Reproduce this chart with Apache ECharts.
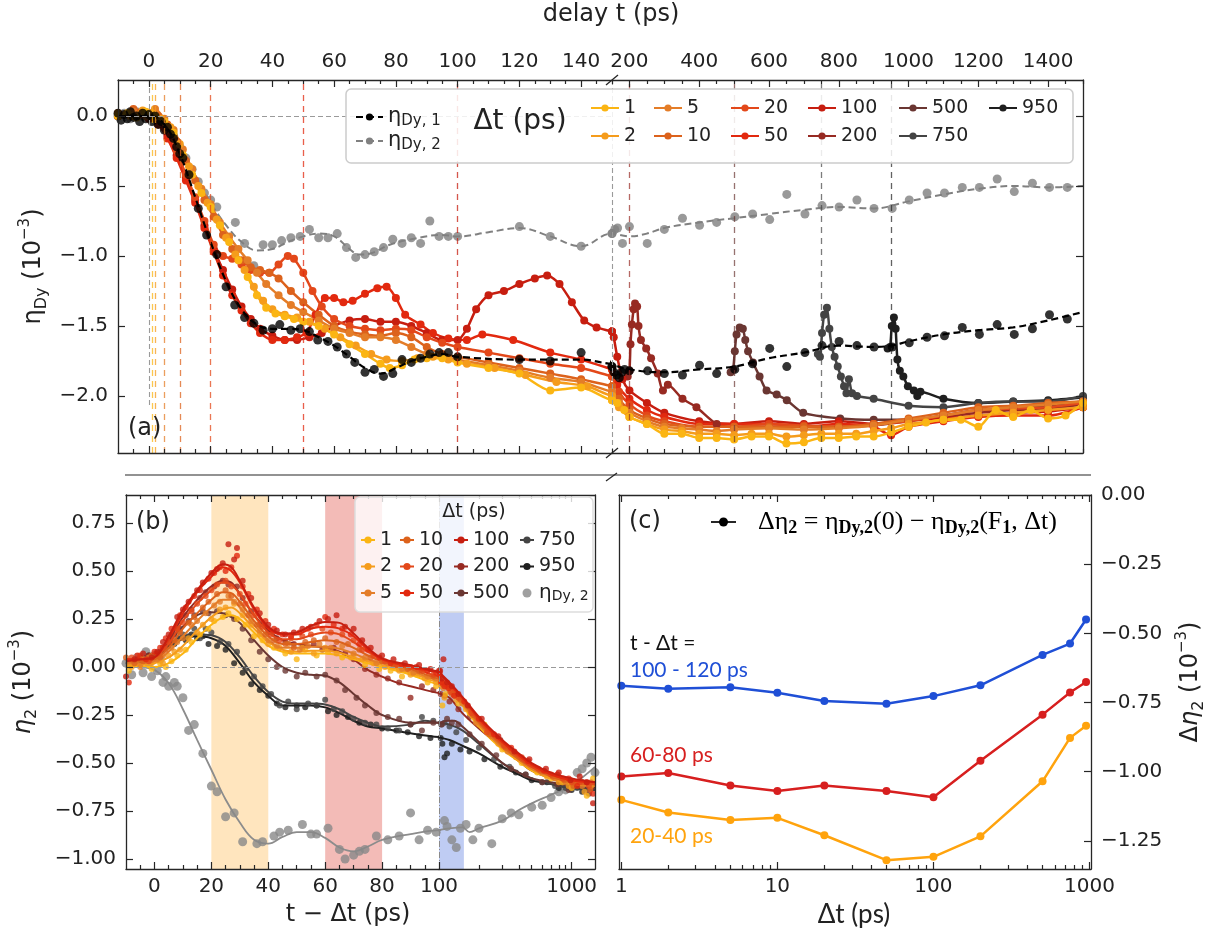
<!DOCTYPE html>
<html>
<head>
<meta charset="utf-8">
<script src="https://cdn.jsdelivr.net/npm/echarts@6/dist/echarts.min.js"></script>
<style>html,body{margin:0;padding:0;background:#fff}#chart{width:1205px;height:938px}</style>
</head>
<body>
<div id="chart"></div>
<script>
// ---------------- panel (a): eta_Dy versus delay t (ps) ----------------
const aEta1Pts = [[-10,0.02],[-9,-0.03],[-8,0.01],[-7,-0.02],[-6,0.03],[-5,-0.01],[-4,0.0],[-3,-0.04],[-2,0.02],[-1,-0.02],[0,0.01],[1,-0.04],[2,0.0],[3,-0.06],[4,-0.04],[5,-0.1],[6,-0.08],[7,-0.13],[8,-0.16],[9,-0.22],[10,-0.27],[11,-0.3],[13,-0.42],[16,-0.66],[18.7,-0.85],[22,-0.99],[25,-1.22],[27.8,-1.35],[31,-1.44],[34,-1.48],[37,-1.53],[40,-1.52],[42.4,-1.49],[46,-1.53],[49,-1.52],[52,-1.54],[54.7,-1.6],[58,-1.61],[61,-1.65],[64,-1.7],[66.7,-1.76],[70,-1.83],[73,-1.81],[76,-1.86],[79,-1.84],[82,-1.74],[85,-1.76],[88,-1.73],[91,-1.7],[94,-1.69],[97,-1.69],[100,-1.72],[120,-1.74],[130,-1.75],[140,-1.69],[150,-1.79],[156,-1.83],[163,-1.85],[171,-1.87],[178,-1.83],[186,-1.81],[200,-1.82],[252,-1.82],[300,-1.84],[352,-1.85],[401,-1.78],[450,-1.84],[502,-1.81],[553,-1.77],[602,-1.66],[651,-1.79],[703,-1.69],[752,-1.64],[801,-1.61],[852,-1.64],[901,-1.65],[953,-1.65],[1002,-1.62],[1053,-1.58],[1103,-1.57],[1154,-1.51],[1203,-1.56],[1254,-1.49],[1303,-1.56],[1355,-1.52],[1404,-1.42],[1455,-1.45],[1501,-1.36]];
const aEta1Fit = [[-10,0],[0,0],[5,-0.06],[10,-0.27],[15,-0.58],[20,-0.9],[25,-1.18],[30,-1.38],[35,-1.49],[40,-1.52],[45,-1.52],[50,-1.53],[55,-1.58],[60,-1.64],[65,-1.72],[70,-1.8],[75,-1.84],[80,-1.8],[85,-1.75],[90,-1.72],[95,-1.7],[100,-1.72],[120,-1.74],[140,-1.74],[150,-1.77],[200,-1.81],[300,-1.83],[400,-1.81],[500,-1.79],[600,-1.73],[700,-1.69],[800,-1.64],[900,-1.65],[950,-1.64],[1000,-1.61],[1100,-1.56],[1200,-1.53],[1300,-1.51],[1400,-1.46],[1500,-1.4]];
const aEta2Pts = [[-10,0.0],[-8,0.02],[-6,-0.02],[-4,0.03],[-2,0.0],[0,0.02],[2,-0.02],[4,-0.04],[6,-0.08],[8,-0.14],[10,-0.22],[12,-0.3],[14,-0.38],[16,-0.47],[18,-0.55],[20,-0.6],[22,-0.65],[28,-0.76],[31,-0.91],[34,-1.07],[37,-0.92],[40,-0.92],[43,-0.89],[46,-0.87],[49,-0.86],[52,-0.81],[55,-0.87],[58,-0.87],[61,-0.84],[64,-0.94],[67,-1.01],[70,-0.99],[73,-0.97],[76,-0.94],[79,-0.88],[82,-0.91],[85,-0.87],[88,-0.91],[91,-0.75],[94,-0.86],[97,-0.86],[100,-0.86],[120,-0.79],[130,-0.86],[140,-0.93],[150,-0.84],[158,-0.81],[166,-0.8],[180,-0.91],[200,-0.79],[251,-0.91],[300,-0.81],[352,-0.73],[401,-0.78],[450,-0.76],[502,-0.72],[553,-0.7],[602,-0.74],[651,-0.56],[703,-0.7],[752,-0.64],[801,-0.65],[852,-0.6],[901,-0.66],[953,-0.66],[1002,-0.6],[1053,-0.55],[1103,-0.55],[1154,-0.51],[1203,-0.51],[1254,-0.45],[1303,-0.54],[1355,-0.48],[1404,-0.51],[1455,-0.51],[1501,-0.49]];
const aEta2Fit = [[-10,0],[0,0],[5,-0.05],[10,-0.2],[15,-0.42],[20,-0.62],[25,-0.78],[30,-0.9],[35,-0.96],[40,-0.95],[45,-0.9],[50,-0.86],[55,-0.84],[60,-0.86],[65,-0.95],[68,-0.99],[72,-0.98],[78,-0.92],[85,-0.88],[95,-0.85],[100,-0.86],[110,-0.83],[120,-0.8],[130,-0.86],[140,-0.93],[150,-0.84],[200,-0.86],[250,-0.84],[300,-0.8],[400,-0.76],[500,-0.73],[600,-0.7],[700,-0.67],[800,-0.65],[900,-0.66],[1000,-0.61],[1100,-0.56],[1200,-0.52],[1300,-0.5],[1400,-0.51],[1500,-0.5]];

const aDt1 = [[-10,0.0],[-7,0.02],[-4,-0.01],[-1,0.03],[2,0.0],[5,-0.04],[8,-0.12],[11,-0.28],[14,-0.42],[17,-0.55],[20,-0.65],[23,-0.78],[26,-0.9],[29,-1.03],[32,-1.15],[35,-1.28],[38,-1.37],[41,-1.41],[44,-1.43],[47,-1.45],[50,-1.47],[55,-1.5],[60,-1.56],[65,-1.63],[70,-1.7],[75,-1.77],[78,-1.8],[82,-1.78],[86,-1.74],[90,-1.73],[95,-1.73],[100,-1.76],[110,-1.8],[120,-1.84],[130,-1.96],[140,-1.94],[150,-2.03],[165,-2.05],[185,-2.1],[200,-2.15],[250,-2.2],[300,-2.27],[350,-2.27],[400,-2.3],[450,-2.3],[500,-2.31],[550,-2.29],[600,-2.29],[650,-2.34],[700,-2.33],[750,-2.3],[800,-2.3],[850,-2.29],[900,-2.29],[950,-2.26],[1000,-2.22],[1050,-2.19],[1100,-2.17],[1150,-2.17],[1200,-2.22],[1250,-2.1],[1300,-2.15],[1350,-2.1],[1400,-2.16],[1450,-2.14],[1500,-2.05]];
const aDt2 = [[-10,0.02],[-6,0.0],[-2,0.04],[1,0.02],[4,-0.02],[7,-0.08],[10,-0.2],[13,-0.36],[16,-0.5],[19,-0.62],[22,-0.74],[25,-0.87],[28,-0.99],[31,-1.1],[34,-1.22],[37,-1.32],[40,-1.38],[44,-1.42],[48,-1.44],[52,-1.47],[57,-1.52],[62,-1.58],[67,-1.64],[72,-1.7],[77,-1.74],[82,-1.75],[87,-1.73],[92,-1.72],[97,-1.74],[103,-1.77],[112,-1.8],[122,-1.85],[132,-1.9],[142,-1.93],[150,-2.0],[170,-2.08],[200,-2.15],[250,-2.2],[300,-2.24],[350,-2.25],[400,-2.27],[450,-2.27],[500,-2.28],[550,-2.27],[600,-2.27],[650,-2.29],[700,-2.28],[750,-2.27],[800,-2.27],[850,-2.27],[900,-2.25],[950,-2.23],[1000,-2.2],[1100,-2.17],[1200,-2.14],[1300,-2.12],[1400,-2.1],[1500,-2.08]];
const aDt5 = [[-10,0.01],[-5,0.03],[-1,0.0],[2,0.05],[5,-0.02],[8,-0.1],[11,-0.24],[14,-0.38],[17,-0.52],[20,-0.63],[23,-0.76],[26,-0.86],[29,-0.95],[32,-1.03],[35,-1.12],[38,-1.2],[42,-1.28],[46,-1.35],[50,-1.4],[55,-1.46],[60,-1.52],[65,-1.55],[70,-1.58],[75,-1.58],[80,-1.6],[85,-1.65],[90,-1.7],[95,-1.72],[100,-1.74],[110,-1.78],[120,-1.82],[130,-1.87],[140,-1.9],[150,-1.97],[170,-2.05],[200,-2.12],[250,-2.18],[300,-2.22],[350,-2.23],[400,-2.24],[450,-2.25],[500,-2.24],[600,-2.23],[700,-2.24],[800,-2.23],[900,-2.21],[1000,-2.17],[1100,-2.14],[1200,-2.1],[1300,-2.08],[1400,-2.06],[1500,-2.04]];
const aDt10 = [[-10,0.0],[-5,0.05],[0,0.02],[3,0.0],[6,-0.06],[9,-0.18],[12,-0.32],[15,-0.46],[18,-0.6],[21,-0.72],[24,-0.85],[27,-0.95],[30,-1.03],[33,-1.08],[36,-1.1],[39,-1.12],[42,-1.16],[46,-1.25],[50,-1.33],[55,-1.42],[60,-1.5],[65,-1.54],[70,-1.56],[75,-1.57],[80,-1.55],[85,-1.58],[90,-1.65],[95,-1.7],[100,-1.72],[110,-1.76],[120,-1.8],[130,-1.84],[140,-1.88],[150,-1.93],[170,-2.02],[200,-2.1],[250,-2.16],[300,-2.2],[400,-2.22],[500,-2.22],[600,-2.22],[700,-2.22],[800,-2.22],[900,-2.2],[1000,-2.16],[1100,-2.12],[1200,-2.08],[1300,-2.07],[1400,-2.05],[1500,-2.04]];
const aDt20 = [[-10,0.0],[-5,0.02],[0,0.0],[3,-0.02],[6,-0.1],[9,-0.25],[12,-0.42],[15,-0.58],[18,-0.75],[21,-0.92],[24,-1.0],[27,-1.02],[30,-1.06],[33,-1.1],[36,-1.12],[39,-1.12],[42,-1.06],[45,-1.0],[47,-1.02],[50,-1.12],[53,-1.25],[56,-1.36],[60,-1.45],[65,-1.5],[70,-1.52],[75,-1.53],[80,-1.52],[85,-1.53],[90,-1.58],[95,-1.62],[100,-1.65],[110,-1.69],[120,-1.73],[130,-1.77],[140,-1.8],[150,-1.86],[170,-1.97],[200,-2.06],[250,-2.14],[300,-2.18],[400,-2.22],[500,-2.22],[600,-2.2],[700,-2.21],[800,-2.22],[900,-2.2],[1000,-2.18],[1100,-2.14],[1200,-2.1],[1300,-2.09],[1400,-2.08],[1500,-2.05]];
const aDt50 = [[-10,0.0],[-5,0.0],[0,-0.02],[3,-0.06],[6,-0.16],[9,-0.3],[12,-0.46],[15,-0.62],[18,-0.8],[21,-0.97],[24,-1.14],[27,-1.28],[30,-1.39],[33,-1.48],[36,-1.55],[40,-1.6],[44,-1.6],[48,-1.58],[51,-1.55],[54,-1.42],[57,-1.3],[60,-1.3],[63,-1.33],[66,-1.32],[70,-1.27],[74,-1.23],[77,-1.22],[80,-1.3],[83,-1.42],[88,-1.49],[92,-1.55],[97,-1.59],[103,-1.6],[108,-1.56],[118,-1.6],[130,-1.69],[140,-1.74],[150,-1.81],[165,-1.92],[200,-2.02],[250,-2.1],[300,-2.15],[400,-2.2],[500,-2.2],[600,-2.2],[700,-2.22],[800,-2.2],[900,-2.22],[950,-2.28],[1000,-2.22],[1100,-2.18],[1200,-2.15],[1300,-2.14],[1400,-2.14],[1500,-2.08]];
const aDt100 = [[-10,0.02],[-5,0.0],[0,0.0],[3,-0.04],[6,-0.14],[9,-0.28],[12,-0.44],[15,-0.6],[18,-0.78],[21,-0.95],[24,-1.1],[27,-1.24],[30,-1.36],[33,-1.45],[36,-1.52],[40,-1.57],[44,-1.6],[48,-1.6],[52,-1.58],[56,-1.55],[60,-1.5],[65,-1.46],[70,-1.45],[75,-1.47],[80,-1.47],[85,-1.5],[90,-1.55],[95,-1.6],[100,-1.6],[103,-1.52],[106,-1.38],[110,-1.28],[115,-1.25],[120,-1.2],[125,-1.16],[129,-1.14],[133,-1.2],[137,-1.33],[141,-1.46],[145,-1.51],[150,-1.54],[155,-1.58],[165,-1.72],[180,-1.88],[200,-1.96],[250,-2.05],[300,-2.12],[400,-2.18],[500,-2.2],[600,-2.18],[700,-2.2],[800,-2.18],[900,-2.2],[1000,-2.17],[1100,-2.16],[1200,-2.14],[1300,-2.12],[1400,-2.11],[1500,-2.08]];
const aDt200 = [[195,-1.86],[200,-1.82],[203,-1.63],[207,-1.49],[212,-1.38],[216,-1.34],[222,-1.36],[226,-1.5],[233,-1.6],[248,-1.66],[262,-1.73],[281,-1.84],[296,-1.96],[310,-1.92],[352,-2.02],[392,-2.08],[450,-2.2],[500,-2.22],[600,-2.22],[700,-2.22],[800,-2.22],[900,-2.21],[1000,-2.18],[1100,-2.15],[1200,-2.12],[1300,-2.1],[1400,-2.09],[1500,-2.06]];
const aDt500 = [[490,-1.83],[497,-1.81],[502,-1.68],[507,-1.56],[516,-1.51],[525,-1.52],[532,-1.6],[540,-1.68],[554,-1.76],[573,-1.86],[593,-1.96],[622,-1.99],[651,-2.03],[698,-2.12],[804,-2.16],[900,-2.17],[1000,-2.17],[1100,-2.14],[1200,-2.1],[1300,-2.09],[1400,-2.07],[1500,-2.04]];
const aDt750 = [[740,-1.7],[746,-1.72],[752,-1.55],[758,-1.42],[766,-1.37],[773,-1.52],[780,-1.65],[788,-1.72],[797,-1.79],[806,-1.86],[815,-1.93],[822,-1.98],[829,-1.88],[838,-1.98],[852,-2.0],[900,-2.02],[1000,-2.07],[1100,-2.08],[1200,-2.05],[1300,-2.04],[1400,-2.04],[1500,-2.0]];
const aDt950 = [[940,-1.66],[947,-1.65],[952,-1.5],[958,-1.44],[963,-1.52],[968,-1.74],[975,-1.82],[985,-1.86],[998,-1.93],[1015,-1.96],[1025,-2.0],[1034,-1.97],[1100,-2.02],[1200,-2.05],[1300,-2.04],[1400,-2.03],[1500,-2.01]];

// ---------------- panel (b): eta_2 versus t - Δt (ps) ----------------
const bFit1 = [[-10,0.0],[-5,0.0],[0,0.0],[5,0.02],[10,0.07],[15,0.15],[20,0.22],[24,0.26],[27,0.27],[30,0.25],[35,0.18],[40,0.11],[45,0.08],[50,0.07],[55,0.07],[60,0.07],[65,0.06],[70,0.04],[75,0.02],[80,0.0],[90,-0.04],[100,-0.09],[120,-0.12],[150,-0.2],[200,-0.31],[300,-0.43],[400,-0.49],[500,-0.54],[700,-0.58],[1000,-0.61],[1500,-0.62]];
const bFit2 = [[-10,0.01],[-5,0.01],[0,0.02],[5,0.05],[10,0.11],[15,0.19],[20,0.26],[24,0.3],[27,0.31],[30,0.28],[35,0.2],[40,0.13],[45,0.09],[50,0.08],[55,0.085],[60,0.085],[65,0.075],[70,0.05],[75,0.03],[80,0.01],[90,-0.03],[100,-0.08],[120,-0.12],[150,-0.19],[200,-0.3],[300,-0.42],[400,-0.49],[500,-0.53],[700,-0.58],[1000,-0.6],[1500,-0.62]];
const bFit5 = [[-10,0.02],[-5,0.02],[0,0.03],[5,0.08],[10,0.16],[15,0.24],[20,0.31],[24,0.35],[27,0.35],[30,0.31],[35,0.22],[40,0.14],[45,0.1],[50,0.1],[55,0.105],[60,0.105],[65,0.095],[70,0.07],[75,0.04],[80,0.02],[90,-0.02],[100,-0.07],[120,-0.11],[150,-0.19],[200,-0.3],[300,-0.42],[400,-0.48],[500,-0.53],[700,-0.57],[1000,-0.6],[1500,-0.62]];
const bFit10 = [[-10,0.03],[-5,0.03],[0,0.04],[5,0.1],[10,0.2],[15,0.28],[20,0.35],[24,0.39],[27,0.385],[30,0.34],[35,0.24],[40,0.16],[45,0.12],[50,0.12],[55,0.13],[60,0.14],[65,0.13],[70,0.1],[75,0.06],[80,0.03],[90,-0.01],[100,-0.06],[120,-0.1],[150,-0.18],[200,-0.29],[300,-0.41],[400,-0.48],[500,-0.52],[700,-0.57],[1000,-0.6],[1500,-0.61]];
const bFit20 = [[-10,0.04],[-5,0.04],[0,0.05],[5,0.12],[10,0.24],[15,0.33],[20,0.4],[24,0.44],[27,0.43],[30,0.38],[35,0.27],[40,0.18],[45,0.145],[50,0.145],[55,0.165],[60,0.18],[65,0.17],[70,0.13],[75,0.08],[80,0.04],[90,0.0],[100,-0.05],[120,-0.1],[150,-0.17],[200,-0.28],[300,-0.4],[400,-0.47],[500,-0.52],[700,-0.56],[1000,-0.59],[1500,-0.61]];
const bFit50 = [[-10,0.04],[-5,0.04],[0,0.05],[5,0.15],[10,0.28],[15,0.39],[20,0.47],[24,0.52],[27,0.5],[30,0.44],[35,0.3],[40,0.2],[45,0.17],[50,0.17],[55,0.2],[60,0.21],[65,0.2],[70,0.16],[75,0.09],[80,0.04],[90,0.0],[100,-0.03],[120,-0.09],[150,-0.16],[200,-0.27],[300,-0.39],[400,-0.46],[500,-0.51],[700,-0.56],[1000,-0.59],[1500,-0.6]];
const bFit100 = [[-10,0.03],[-5,0.04],[0,0.05],[5,0.16],[10,0.3],[15,0.4],[20,0.49],[24,0.535],[27,0.52],[30,0.45],[35,0.31],[40,0.21],[45,0.175],[50,0.18],[55,0.215],[60,0.235],[65,0.23],[70,0.175],[75,0.1],[80,0.045],[90,0.01],[100,-0.025],[120,-0.08],[150,-0.155],[200,-0.26],[300,-0.38],[400,-0.45],[500,-0.5],[700,-0.55],[1000,-0.58],[1500,-0.6]];
const bFit200 = [[-10,0.03],[-5,0.04],[0,0.05],[5,0.14],[10,0.26],[15,0.35],[20,0.42],[24,0.45],[27,0.44],[30,0.38],[35,0.27],[40,0.19],[45,0.14],[50,0.12],[55,0.11],[60,0.1],[65,0.08],[70,0.04],[75,-0.015],[80,-0.05],[86,-0.085],[90,-0.1],[100,-0.135],[120,-0.16],[150,-0.24],[200,-0.32],[300,-0.42],[400,-0.49],[500,-0.54],[700,-0.58],[1000,-0.61],[1500,-0.62]];
const bFit500 = [[-10,0.03],[-5,0.03],[0,0.05],[5,0.13],[10,0.21],[15,0.27],[20,0.285],[25,0.275],[30,0.23],[35,0.14],[40,0.06],[45,0.0],[50,-0.03],[55,-0.04],[60,-0.045],[65,-0.08],[70,-0.14],[75,-0.2],[80,-0.25],[90,-0.29],[100,-0.29],[115,-0.28],[130,-0.28],[150,-0.31],[200,-0.39],[300,-0.5],[400,-0.55],[500,-0.58],[700,-0.6],[1000,-0.62],[1500,-0.63]];
const bFit750 = [[-10,0.02],[-5,0.03],[0,0.05],[5,0.12],[10,0.16],[15,0.17],[20,0.165],[25,0.13],[30,0.05],[35,-0.05],[40,-0.13],[45,-0.18],[50,-0.19],[55,-0.19],[60,-0.195],[65,-0.22],[70,-0.26],[75,-0.29],[80,-0.31],[90,-0.3],[95,-0.28],[100,-0.29],[120,-0.3],[150,-0.33],[200,-0.4],[300,-0.5],[400,-0.55],[500,-0.58],[700,-0.61],[1000,-0.63],[1500,-0.64]];
const bFit950 = [[-10,0.02],[-5,0.03],[0,0.05],[5,0.11],[10,0.15],[15,0.16],[20,0.15],[25,0.11],[30,0.02],[35,-0.08],[40,-0.15],[45,-0.2],[50,-0.2],[55,-0.2],[60,-0.21],[65,-0.24],[70,-0.28],[75,-0.31],[80,-0.32],[90,-0.345],[100,-0.365],[120,-0.38],[150,-0.41],[200,-0.45],[300,-0.52],[400,-0.56],[500,-0.59],[700,-0.61],[1000,-0.63],[1500,-0.64]];
const bFitEta2 = [[-10,0.01],[-5,0.0],[0,-0.015],[5,-0.085],[10,-0.22],[15,-0.38],[20,-0.535],[25,-0.69],[30,-0.81],[35,-0.9],[40,-0.92],[45,-0.885],[50,-0.86],[55,-0.86],[60,-0.89],[65,-0.94],[70,-0.96],[75,-0.935],[80,-0.9],[90,-0.87],[100,-0.85],[120,-0.84],[150,-0.835],[170,-0.86],[200,-0.84],[300,-0.8],[400,-0.745],[500,-0.71],[700,-0.665],[1000,-0.615],[1500,-0.52]];

const bPts1 = [[-9,-0.02],[-6,0.01],[-3,0.03],[-1,-0.01],[2,0.02],[4,0.0],[6,0.03],[8,0.06],[11,0.09],[13,0.13],[16,0.17],[19,0.2],[21,0.24],[24,0.26],[26,0.28],[29,0.25],[32,0.22],[35,0.16],[38,0.14],[42,0.1],[46,0.07],[50,0.04],[53,0.09],[57,0.06],[61,0.08],[66,0.05],[70,0.06],[74,0.01],[79,-0.01],[83,-0.02],[87,-0.05],[92,-0.04],[96,-0.08],[99,-0.1],[106,-0.2],[112,-0.14],[125,-0.13],[140,-0.19],[170,-0.24],[220,-0.3],[300,-0.43],[420,-0.5],[550,-0.55],[700,-0.58],[850,-0.6],[1000,-0.63],[1150,-0.6],[1300,-0.67],[1450,-0.58]];
const bPts2 = [[-8,0.0],[-4,0.04],[-1,0.02],[1,0.05],[3,0.02],[5,0.06],[7,0.08],[9,0.09],[12,0.15],[15,0.18],[17,0.22],[20,0.25],[23,0.3],[25,0.31],[28,0.33],[31,0.27],[34,0.22],[37,0.17],[40,0.12],[44,0.1],[48,0.08],[52,0.1],[56,0.07],[60,0.1],[64,0.07],[69,0.05],[73,0.04],[77,0.02],[81,0.0],[86,-0.02],[90,-0.04],[95,-0.06],[99,-0.08],[104,-0.1],[110,-0.16],[120,-0.12],[135,-0.17],[160,-0.22],[200,-0.3],[280,-0.4],[380,-0.47],[500,-0.52],[650,-0.57],[800,-0.6],[950,-0.62],[1100,-0.6],[1250,-0.65],[1400,-0.62]];
const bPts5 = [[-9,0.03],[-5,0.0],[-2,0.05],[1,0.04],[3,0.06],[6,0.1],[8,0.13],[10,0.15],[13,0.22],[15,0.24],[18,0.28],[21,0.32],[23,0.34],[26,0.37],[28,0.34],[31,0.3],[34,0.24],[37,0.19],[40,0.14],[43,0.11],[47,0.12],[51,0.09],[54,0.11],[58,0.12],[62,0.1],[66,0.11],[70,0.07],[74,0.05],[78,0.02],[82,0.02],[87,-0.01],[91,-0.03],[96,-0.05],[99,-0.06],[103,-0.08],[108,-0.11],[118,-0.1],[130,-0.15],[150,-0.19],[190,-0.29],[250,-0.36],[330,-0.44],[450,-0.5],[600,-0.55],[750,-0.58],[900,-0.6],[1050,-0.6],[1200,-0.62],[1400,-0.6]];
const bPts10 = [[-10,0.05],[-7,0.02],[-4,0.03],[-1,0.06],[2,0.05],[4,0.09],[7,0.14],[9,0.18],[12,0.23],[14,0.26],[17,0.31],[19,0.34],[22,0.38],[25,0.4],[27,0.37],[30,0.33],[33,0.27],[36,0.22],[39,0.17],[42,0.14],[46,0.12],[49,0.1],[53,0.13],[56,0.14],[60,0.15],[64,0.13],[68,0.12],[72,0.09],[76,0.05],[80,0.03],[84,0.01],[89,-0.01],[93,-0.02],[98,-0.05],[102,-0.05],[107,-0.09],[115,-0.1],[125,-0.14],[145,-0.17],[180,-0.25],[240,-0.35],[320,-0.42],[430,-0.48],[580,-0.54],[720,-0.57],[880,-0.59],[1030,-0.62],[1200,-0.6],[1380,-0.64]];
const bPts20 = [[-8,0.05],[-5,0.06],[-2,0.03],[1,0.07],[3,0.1],[5,0.13],[8,0.2],[10,0.23],[13,0.29],[15,0.33],[18,0.37],[20,0.4],[22,0.43],[25,0.45],[27,0.42],[30,0.38],[32,0.33],[35,0.27],[38,0.21],[41,0.17],[44,0.14],[48,0.15],[52,0.16],[55,0.17],[59,0.2],[62,0.18],[66,0.17],[70,0.14],[73,0.09],[77,0.06],[81,0.03],[85,0.01],[90,0.0],[94,-0.02],[98,-0.04],[101,-0.03],[106,-0.08],[113,-0.09],[122,-0.13],[140,-0.16],[175,-0.24],[230,-0.34],[310,-0.41],[420,-0.47],[560,-0.53],[700,-0.56],[860,-0.58],[1000,-0.6],[1150,-0.6],[1350,-0.62]];
const bPts50 = [[-9,-0.08],[-6,0.06],[-3,0.04],[0,0.08],[2,0.1],[4,0.15],[6,0.2],[9,0.27],[11,0.31],[14,0.37],[16,0.4],[19,0.46],[21,0.49],[23,0.52],[25,0.5],[27,0.52],[29,0.58],[31,0.42],[33,0.38],[36,0.3],[39,0.24],[42,0.2],[45,0.17],[48,0.16],[51,0.18],[54,0.2],[57,0.22],[60,0.26],[63,0.22],[66,0.2],[69,0.17],[72,0.12],[75,0.09],[79,0.05],[83,0.02],[87,0.01],[92,0.0],[96,-0.02],[99,-0.03],[101,-0.04],[104,-0.08],[110,-0.1],[118,-0.11],[130,-0.15],[155,-0.18],[200,-0.27],[260,-0.35],[350,-0.42],[470,-0.49],[620,-0.54],[780,-0.56],[950,-0.58],[1100,-0.62],[1300,-0.6],[1450,-0.66]];
const bPts100 = [[-10,-0.05],[-7,0.04],[-4,0.07],[-1,0.05],[1,0.08],[3,0.13],[5,0.17],[8,0.26],[10,0.3],[12,0.34],[15,0.4],[17,0.44],[20,0.49],[22,0.51],[24,0.54],[26,0.64],[28,0.56],[29,0.62],[31,0.45],[34,0.36],[37,0.28],[40,0.22],[43,0.19],[46,0.17],[49,0.18],[52,0.2],[55,0.21],[58,0.24],[61,0.25],[64,0.27],[67,0.21],[70,0.2],[73,0.14],[76,0.1],[80,0.06],[84,0.04],[88,0.02],[93,0.01],[97,-0.01],[100,-0.02],[102,-0.02],[105,-0.06],[108,0.04],[115,-0.08],[125,-0.1],[140,-0.14],[165,-0.2],[210,-0.27],[280,-0.36],[370,-0.44],[480,-0.48],[640,-0.53],[800,-0.55],[980,-0.59],[1150,-0.57],[1300,-0.6],[1450,-0.71]];
const bPts200 = [[-8,0.02],[-5,0.05],[-2,0.06],[1,0.06],[3,0.1],[6,0.16],[8,0.2],[11,0.27],[13,0.3],[16,0.36],[18,0.39],[21,0.42],[24,0.45],[26,0.43],[29,0.42],[31,0.36],[34,0.29],[37,0.22],[40,0.18],[43,0.15],[46,0.13],[49,0.12],[52,0.1],[56,0.12],[59,0.09],[63,0.1],[67,0.07],[70,0.04],[74,-0.01],[78,-0.04],[82,-0.06],[86,-0.08],[90,-0.16],[94,-0.1],[98,-0.12],[103,-0.14],[110,-0.15],[120,-0.18],[140,-0.22],[170,-0.26],[220,-0.31],[290,-0.38],[380,-0.46],[500,-0.52],[650,-0.56],[820,-0.59],[1000,-0.61],[1200,-0.6],[1400,-0.63]];
const bPts500 = [[-9,0.02],[-5,0.04],[-2,0.05],[1,0.07],[3,0.1],[5,0.14],[7,0.17],[9,0.2],[12,0.24],[14,0.27],[17,0.29],[19,0.28],[22,0.29],[25,0.27],[28,0.25],[31,0.2],[34,0.14],[37,0.08],[40,0.04],[43,0.0],[46,-0.02],[50,-0.05],[53,-0.03],[57,-0.05],[60,-0.04],[64,-0.07],[67,-0.12],[71,-0.16],[74,-0.2],[78,-0.24],[82,-0.26],[86,-0.27],[90,-0.3],[94,-0.33],[98,-0.29],[105,-0.3],[115,-0.27],[125,-0.29],[140,-0.3],[170,-0.35],[210,-0.4],[270,-0.46],[350,-0.53],[450,-0.56],[600,-0.6],[780,-0.61],[950,-0.64],[1150,-0.62],[1350,-0.66]];
const bPts750 = [[-9,0.02],[-6,0.04],[-3,0.05],[0,0.06],[2,0.08],[4,0.1],[6,0.13],[8,0.14],[10,0.17],[12,0.16],[14,0.2],[16,0.15],[18,0.2],[20,0.18],[23,0.13],[26,0.12],[29,0.08],[32,-0.01],[35,-0.05],[38,-0.1],[41,-0.14],[44,-0.2],[47,-0.18],[50,-0.22],[54,-0.19],[57,-0.2],[60,-0.17],[63,-0.22],[66,-0.23],[70,-0.27],[74,-0.29],[78,-0.3],[82,-0.32],[86,-0.33],[90,-0.3],[94,-0.26],[98,-0.28],[104,-0.3],[110,-0.29],[120,-0.31],[135,-0.34],[160,-0.38],[200,-0.42],[260,-0.48],[340,-0.52],[450,-0.56],[600,-0.6],[750,-0.62],[900,-0.63],[1100,-0.63],[1300,-0.64]];
const bPts950 = [[-8,0.01],[-5,0.03],[-2,0.06],[1,0.05],[3,0.09],[5,0.11],[7,0.12],[9,0.15],[11,0.14],[13,0.17],[15,0.15],[17,0.16],[19,0.12],[22,0.11],[25,0.09],[28,0.02],[31,-0.03],[34,-0.09],[37,-0.12],[40,-0.15],[43,-0.19],[46,-0.21],[50,-0.2],[53,-0.21],[57,-0.2],[61,-0.23],[64,-0.25],[68,-0.26],[72,-0.29],[76,-0.3],[80,-0.32],[85,-0.33],[89,-0.34],[93,-0.36],[97,-0.37],[103,-0.37],[106,-0.4],[110,-0.47],[115,-0.45],[125,-0.4],[145,-0.43],[170,-0.44],[220,-0.48],[290,-0.52],[380,-0.55],[500,-0.59],[650,-0.6],[800,-0.63],[1000,-0.64],[1200,-0.65],[1400,-0.62]];
const bPtsEta2 = [[-10,0.02],[-8,-0.04],[-6,0.05],[-4,-0.03],[-3,0.08],[-2,0.02],[-1,-0.05],[0,0.06],[1,-0.02],[2,0.04],[3,-0.08],[4,-0.05],[5,-0.1],[7,-0.08],[8,-0.1],[10,-0.16],[12,-0.33],[14,-0.3],[17,-0.45],[20,-0.62],[22,-0.65],[25,-0.78],[28,-0.76],[31,-0.91],[36,-0.92],[38,-0.91],[42,-0.88],[44,-0.86],[47,-0.85],[52,-0.82],[55,-0.87],[57,-0.87],[61,-0.84],[65,-0.95],[67,-1.0],[70,-0.98],[72,-0.96],[74,-0.95],[78,-0.88],[82,-0.9],[86,-0.88],[90,-0.76],[93,-0.9],[96,-0.85],[99,-0.86],[110,-0.8],[115,-0.83],[125,-0.9],[135,-0.94],[145,-0.84],[160,-0.82],[180,-0.9],[200,-0.84],[250,-0.92],[300,-0.79],[350,-0.76],[400,-0.77],[500,-0.73],[600,-0.72],[700,-0.68],[800,-0.65],[900,-0.64],[1000,-0.6],[1100,-0.55],[1200,-0.53],[1300,-0.5],[1400,-0.47],[1500,-0.55]];

// ---------------- panel (c): Δη2 versus Δt ----------------
const cDt = [1, 2, 5, 10, 20, 50, 100, 200, 500, 750, 950];
const c100to120 = [-0.69, -0.70, -0.695, -0.715, -0.745, -0.755, -0.727, -0.688, -0.578, -0.537, -0.45];
const c60to80 = [-1.018, -1.005, -1.05, -1.07, -1.05, -1.07, -1.093, -0.961, -0.794, -0.714, -0.676];
const c20to40 = [-1.102, -1.148, -1.175, -1.167, -1.23, -1.32, -1.308, -1.234, -1.035, -0.878, -0.834];

// ---------------- tick labels ----------------
const aTicksEarly = [0, 20, 40, 60, 80, 100, 120, 140];
const aTicksLate = [200, 400, 600, 800, 1000, 1200, 1400];
const aTicksY = [0, -0.5, -1.0, -1.5, -2.0];
const bTicksLin = [0, 20, 40, 60, 80, 100];
const bTicksLog = [1000];
const bTicksY = [0.75, 0.5, 0.25, 0, -0.25, -0.5, -0.75, -1.0];
const cTicksX = [1, 10, 100, 1000];
const cTicksY = [0, -0.25, -0.5, -0.75, -1.0, -1.25];

const aDtData = {'1': aDt1, '2': aDt2, '5': aDt5, '10': aDt10, '20': aDt20, '50': aDt50, '100': aDt100, '200': aDt200, '500': aDt500, '750': aDt750, '950': aDt950};
const bFitData = {'1': bFit1, '2': bFit2, '5': bFit5, '10': bFit10, '20': bFit20, '50': bFit50, '100': bFit100, '200': bFit200, '500': bFit500, '750': bFit750, '950': bFit950};
const bPtsData = {'1': bPts1, '2': bPts2, '5': bPts5, '10': bPts10, '20': bPts20, '50': bPts50, '100': bPts100, '200': bPts200, '500': bPts500, '750': bPts750, '950': bPts950};

// ---------------- styling ----------------
const palette = {'1': '#fbb513', '2': '#f59c1c', '5': '#e47d28', '10': '#dc621c', '20': '#e3481a', '50': '#e2290f', '100': '#c71e10', '200': '#972a22', '500': '#6a3632', '750': '#444444', '950': '#1f1f1f'};
const SANS = 'DejaVu Sans';
const INK = '#262626';
const fmt1 = v => (v === 0 ? '0.0' : v.toFixed(1).replace('-', '\u2212'));
const fmt2 = v => (v === 0 ? '0.00' : v.toFixed(2).replace('-', '\u2212'));
const fmtInt = v => String(Math.round(v));

function range(a, b, step, skip) {
  const out = [];
  for (let v = a; v <= b + 1e-9; v += step) if (!skip || skip.indexOf(v) < 0) out.push(v);
  return out;
}
const minorEarly = range(-5, 145, 5, aTicksEarly);
const minorLate = range(150, 1500, 50, aTicksLate);
const minorLin = range(-5, 95, 5, bTicksLin);
const minorLog = [200, 300, 400, 500, 600, 700, 800, 900];
const minorC = [2, 3, 4, 5, 6, 7, 8, 9, 20, 30, 40, 50, 60, 70, 80, 90, 200, 300, 400, 500, 600, 700, 800, 900];

const titleRich = {
  e: {fontFamily: SANS, fontSize: 24, lineHeight: 32, color: '#222'},
  i: {fontFamily: SANS, fontSize: 24, fontStyle: 'italic', lineHeight: 32, color: '#222'},
  s: {fontFamily: SANS, fontSize: 16, lineHeight: 16, verticalAlign: 'bottom', color: '#222'},
  p: {fontFamily: SANS, fontSize: 15, lineHeight: 15, verticalAlign: 'top', color: '#222'}
};
const titleStyle = {fontFamily: SANS, fontSize: 24, lineHeight: 32, color: '#222', rich: titleRich};

// ---------------- grids and axes ----------------
const grids = [
  {left: 118, top: 80, width: 494, height: 373},
  {left: 612, top: 80, width: 471, height: 373},
  {left: 126, top: 495, width: 313, height: 374},
  {left: 439, top: 495, width: 156, height: 374},
  {left: 619, top: 495, width: 472, height: 374}
].map(g => Object.assign({containLabel: false, outerBoundsMode: 'none'}, g));

const xAxes = [], yAxes = [];
function axis(list, grid, o) {
  list.push({
    type: o.type || 'value', gridIndex: grid, min: o.min, max: o.max, position: o.pos,
    axisLine: {show: !!o.line, onZero: false, lineStyle: {color: INK, width: 1.3}},
    axisTick: o.ticks ? {show: true, inside: true, length: o.len || 7, customValues: o.ticks, lineStyle: {color: INK, width: 1.2}} : {show: false},
    axisLabel: o.labels ? {show: true, customValues: o.labels, formatter: o.fmt, margin: o.margin != null ? o.margin : 8, fontFamily: SANS, fontSize: 20, color: '#222'} : {show: false},
    splitLine: {show: false},
    name: o.name || '', nameLocation: 'middle', nameGap: o.nameGap || 0, nameRotate: o.nameRotate, nameTextStyle: o.nameStyle,
    silent: true, z: 5
  });
  return list.length - 1;
}

// (a) early delays
const xA1 = axis(xAxes, 0, {min: -10, max: 150, pos: 'top', line: true, ticks: aTicksEarly, labels: aTicksEarly, fmt: fmtInt});
axis(xAxes, 0, {min: -10, max: 150, pos: 'top', ticks: minorEarly, len: 4});
axis(xAxes, 0, {min: -10, max: 150, pos: 'bottom', line: true, ticks: aTicksEarly});
axis(xAxes, 0, {min: -10, max: 150, pos: 'bottom', ticks: minorEarly, len: 4});
const yA1 = axis(yAxes, 0, {min: -2.407, max: 0.257, pos: 'left', line: true, ticks: aTicksY, labels: aTicksY, fmt: fmt1, margin: 10,
  name: '{e|\u03b7}{s|Dy} (10{p|\u22123})', nameGap: 68, nameRotate: 90, nameStyle: titleStyle});
// (a) late delays
const xA2 = axis(xAxes, 1, {min: 150, max: 1500, pos: 'top', line: true, ticks: aTicksLate, labels: aTicksLate, fmt: fmtInt});
axis(xAxes, 1, {min: 150, max: 1500, pos: 'top', ticks: minorLate, len: 4});
axis(xAxes, 1, {min: 150, max: 1500, pos: 'bottom', line: true, ticks: aTicksLate});
axis(xAxes, 1, {min: 150, max: 1500, pos: 'bottom', ticks: minorLate, len: 4});
const yA2 = axis(yAxes, 1, {min: -2.407, max: 0.257, pos: 'right', line: true, ticks: aTicksY});
// (b) linear part
const xB1 = axis(xAxes, 2, {min: -10, max: 100, pos: 'bottom', line: true, ticks: bTicksLin, labels: bTicksLin, fmt: fmtInt});
axis(xAxes, 2, {min: -10, max: 100, pos: 'bottom', ticks: minorLin, len: 4});
axis(xAxes, 2, {min: -10, max: 100, pos: 'top', line: true, ticks: bTicksLin});
axis(xAxes, 2, {min: -10, max: 100, pos: 'top', ticks: minorLin, len: 4});
const yB1 = axis(yAxes, 2, {min: -1.052, max: 0.896, pos: 'left', line: true, ticks: bTicksY, labels: bTicksY, fmt: fmt2, margin: 10,
  name: '{i|\u03b7}{s|2} (10{p|\u22123})', nameGap: 86, nameRotate: 90, nameStyle: titleStyle});
// (b) logarithmic part
const xB2 = axis(xAxes, 3, {type: 'log', min: 100, max: 1500, pos: 'bottom', line: true, ticks: bTicksLog, labels: bTicksLog, fmt: fmtInt});
axis(xAxes, 3, {type: 'log', min: 100, max: 1500, pos: 'bottom', ticks: minorLog, len: 4});
axis(xAxes, 3, {type: 'log', min: 100, max: 1500, pos: 'top', line: true, ticks: bTicksLog});
axis(xAxes, 3, {type: 'log', min: 100, max: 1500, pos: 'top', ticks: minorLog, len: 4});
const yB2 = axis(yAxes, 3, {min: -1.052, max: 0.896, pos: 'right', line: true, ticks: bTicksY});
// (c)
const xC = axis(xAxes, 4, {type: 'log', min: 0.967, max: 1022, pos: 'bottom', line: true, ticks: cTicksX, labels: cTicksX, fmt: fmtInt});
axis(xAxes, 4, {type: 'log', min: 0.967, max: 1022, pos: 'bottom', ticks: minorC, len: 4});
axis(xAxes, 4, {type: 'log', min: 0.967, max: 1022, pos: 'top', line: true, ticks: cTicksX});
axis(xAxes, 4, {type: 'log', min: 0.967, max: 1022, pos: 'top', ticks: minorC, len: 4});
const yC = axis(yAxes, 4, {min: -1.352, max: 0, pos: 'right', line: true, ticks: cTicksY, labels: cTicksY, fmt: fmt2, margin: 10,
  name: '{e|\u0394}{i|\u03b7}{s|2} (10{p|\u22123})', nameGap: 84, nameRotate: 90, nameStyle: titleStyle});
axis(yAxes, 4, {min: -1.352, max: 0, pos: 'left', line: true});

// ---------------- helpers to split data across the broken axes ----------------
function upTo(d, cut) {
  if (!d.length || d[0][0] > cut) return [];
  const i = d.findIndex(p => p[0] > cut);
  return i < 0 ? d.slice() : d.slice(0, i + 1);
}
function from(d, cut) {
  const i = d.findIndex(p => p[0] >= cut);
  if (i < 0) return [];
  return d.slice(Math.max(0, i - 1));
}
const CUT_A = 150, CUT_B = 100;

const series = [];
const base = {animation: false, silent: true, emphasis: {disabled: true}};

function addA(name, data, styleFn, extraL, extraR) {
  const l = upTo(data, CUT_A), r = from(data, CUT_A);
  if (l.length) series.push(Object.assign({name, xAxisIndex: xA1, yAxisIndex: yA1, data: l}, base, styleFn(), extraL || {}));
  if (r.length) series.push(Object.assign({name, xAxisIndex: xA2, yAxisIndex: yA2, data: r}, base, styleFn(), extraR || {}));
}
function addB(name, data, styleFn, isPts, extraL, extraR) {
  const l = isPts ? data.filter(p => p[0] <= CUT_B) : upTo(data, CUT_B);
  const r = isPts ? data.filter(p => p[0] > CUT_B) : from(data, CUT_B);
  if (l.length) series.push(Object.assign({name, xAxisIndex: xB1, yAxisIndex: yB1, data: l}, base, styleFn(), extraL || {}));
  if (r.length) series.push(Object.assign({name, xAxisIndex: xB2, yAxisIndex: yB2, data: r}, base, styleFn(), extraR || {}));
}

const markLineBase = {silent: true, symbol: ['none', 'none'], label: {show: false}, animation: false, emphasis: {disabled: true}};
const grayDash = {color: '#9a9a9a', type: [5, 3], width: 1.1};

// ---- panel (a) series ----
addA('eta2', aEta2Fit, () => ({type: 'line', smooth: 0.4, symbol: 'circle', symbolSize: 8, showSymbol: false, z: 2,
    color: '#808080', itemStyle: {color: '#808080'}, lineStyle: {color: '#808080', width: 2, type: [7, 4]}}),
  {markLine: Object.assign({}, markLineBase, {lineStyle: {type: [6, 5], width: 1.3}, data:
    ['1', '2', '5', '10', '20', '50', '100'].map(n => ({xAxis: Number(n), lineStyle: {color: palette[n], opacity: 0.75}}))
      .concat([
        [{coord: [0, 0.257], lineStyle: grayDash}, {coord: [0, -2.08]}],
        [{coord: [-10, 0], lineStyle: grayDash}, {coord: [150, 0]}]
      ])})},
  {markLine: Object.assign({}, markLineBase, {lineStyle: {type: [6, 5], width: 1.3}, data:
    ['200', '500', '750', '950'].map(n => ({xAxis: Number(n), lineStyle: {color: palette[n], opacity: 0.7}}))
      .concat([{xAxis: 150, lineStyle: grayDash}])})});
addA('eta2_pts', aEta2Pts, () => ({type: 'scatter', symbolSize: 9, z: 2, itemStyle: {color: '#808080'}}));
['950', '750', '500', '200', '100', '50', '20', '10', '5', '2', '1'].forEach(n => {
  addA(n, aDtData[n], () => ({type: 'line', smooth: 0.25, symbol: 'circle', symbolSize: 8, showSymbol: true, z: 3,
    color: palette[n], itemStyle: {color: palette[n]}, lineStyle: {color: palette[n], width: 2.5}}));
});
addA('eta1_pts', aEta1Pts, () => ({type: 'scatter', symbolSize: 9, z: 4, itemStyle: {color: '#000'}}));
addA('eta1', aEta1Fit, () => ({type: 'line', smooth: 0.4, symbol: 'circle', symbolSize: 8, showSymbol: false, z: 4,
  color: '#000', itemStyle: {color: '#000'}, lineStyle: {color: '#000', width: 2.2, type: [7, 4]}}));

// ---- panel (b) series ----
addB('eta2b_fit', bFitEta2, () => ({type: 'line', smooth: 0.4, showSymbol: false, z: 1,
    color: '#8c8c8c', lineStyle: {color: '#8c8c8c', width: 1.8}}), false,
  {markArea: {silent: true, animation: false, data: [
      [{xAxis: 20, itemStyle: {color: 'rgba(255,170,40,0.3)'}}, {xAxis: 40}],
      [{xAxis: 60, itemStyle: {color: 'rgba(220,60,50,0.35)'}}, {xAxis: 80}]]},
   markLine: Object.assign({}, markLineBase, {data: [
      {yAxis: 0, lineStyle: {color: '#9a9a9a', type: [5, 3], width: 1}},
      {xAxis: 100, lineStyle: {color: '#8a8a8a', type: [6, 2, 1, 2], width: 1}}]})},
  {markArea: {silent: true, animation: false, data: [
      [{xAxis: 100, itemStyle: {color: 'rgba(60,100,220,0.33)'}}, {xAxis: 154}]]},
   markLine: Object.assign({}, markLineBase, {data: [{yAxis: 0, lineStyle: {color: '#9a9a9a', type: [5, 3], width: 1}}]})});
addB('eta2b', bPtsEta2, () => ({type: 'scatter', symbolSize: 9, z: 2, itemStyle: {color: '#888888'}}), true);
['950', '750', '500', '200', '1', '2', '5', '10', '20', '50', '100'].forEach((n, k) => {
  addB(n, bPtsData[n], () => ({type: 'scatter', symbolSize: 6, z: 3 + k * 0.01, itemStyle: {color: palette[n]}}), true);
  addB(n, bFitData[n], () => ({type: 'line', smooth: 0.35, showSymbol: false, symbol: 'circle', z: 3.005 + k * 0.01,
    color: palette[n], lineStyle: {color: palette[n], width: 2}}), false);
});

// ---- panel (c) series ----
[[c100to120, '#1f4fd6'], [c60to80, '#d71f1f'], [c20to40, '#ffa30d']].forEach(([vals, col]) => {
  series.push(Object.assign({type: 'line', name: 'c_' + col, xAxisIndex: xC, yAxisIndex: yC,
    data: cDt.map((d, i) => [d, vals[i]]), symbol: 'circle', symbolSize: 8, showSymbol: true, z: 3,
    color: col, itemStyle: {color: col}, lineStyle: {color: col, width: 2.5}}, base));
});

// ---------------- legends ----------------
const legendNames = {eta1: '{e|\u03b7}{s|Dy, 1}', eta2: '{e|\u03b7}{s|Dy, 2}', eta2b: '{e|\u03b7}{s|Dy, 2}'};
function legendCol(data, left, top, o) {
  return {
    show: true, orient: 'vertical', left, top, data, padding: 0, itemGap: o.gap, itemWidth: o.w, itemHeight: o.h,
    selectedMode: false, z: 20, backgroundColor: 'transparent',
    formatter: n => legendNames[n] || n,
    textStyle: {fontFamily: SANS, fontSize: o.fs, color: '#222', lineHeight: o.lh,
      rich: {e: {fontFamily: SANS, fontSize: o.fs + 1, lineHeight: o.lh, color: '#222'},
             s: {fontFamily: SANS, fontSize: o.fs - 5, lineHeight: o.fs - 5, verticalAlign: 'bottom', color: '#222'}}}
  };
}
const legA = {gap: 8, w: 28, h: 9, fs: 19, lh: 20};
const legB = {gap: 6.5, w: 14, h: 9, fs: 19, lh: 20};
const legends = [
  legendCol(['eta1', 'eta2'], 355, 105, {gap: 0, w: 27, h: 9, fs: 20, lh: 24}),
  legendCol(['1', '2'], 590, 98, legA),
  legendCol(['5', '10'], 653, 98, legA),
  legendCol(['20', '50'], 730, 98, legA),
  legendCol(['100', '200'], 807, 98, legA),
  legendCol(['500', '750'], 898, 98, legA),
  legendCol(['950'], 988, 98, legA),
  legendCol(['1', '2', '5'], 360, 530, legB),
  legendCol(['10', '20', '50'], 399, 530, legB),
  legendCol(['100', '200', '500'], 453, 530, legB),
  legendCol(['750', '950', 'eta2b'], 519, 530, legB)
];

// ---------------- text, frames and break marks ----------------
function txt(x, y, text, font, o) {
  o = o || {};
  const align = o.align || 'center';
  return {type: 'text', x, y, z: 21, silent: true,
    style: Object.assign({text, font, fill: o.fill || '#222', align, textAlign: align, verticalAlign: 'middle', textVerticalAlign: 'middle'}, o.style || {})};
}
function seg(x1, y1, x2, y2, w) {
  return {type: 'line', z: 21, silent: true, shape: {x1, y1, x2, y2}, style: {stroke: INK, lineWidth: w || 1.3}};
}
const formulaRich = {
  m: {fontFamily: 'Liberation Serif', fontSize: 26, color: '#111', lineHeight: 30},
  s: {fontFamily: 'Liberation Serif', fontSize: 18, fontWeight: 'bold', color: '#111', lineHeight: 18, verticalAlign: 'bottom'}
};
const graphics = [
  {type: 'rect', z: 10, silent: true, shape: {x: 346, y: 89, width: 727, height: 74, r: 5}, style: {fill: 'rgba(255,255,255,0.85)', stroke: '#cccccc', lineWidth: 1.5}},
  {type: 'rect', z: 10, silent: true, shape: {x: 355, y: 497, width: 238, height: 115, r: 5}, style: {fill: 'rgba(255,255,255,0.8)', stroke: '#dddddd', lineWidth: 1.5}},
  txt(520, 122, '\u0394t (ps)', '28px "DejaVu Sans"'),
  txt(474, 512, '\u0394t (ps)', '19px "DejaVu Sans"'),
  txt(611, 15, 'delay t (ps)', '24px "DejaVu Sans"'),
  txt(348, 915, 't \u2212 \u0394t (ps)', '24px "DejaVu Sans"'),
  txt(854, 915, '\u0394t (ps)', '26px Lato'),
  txt(128, 429, '(a)', '24px "DejaVu Sans"', {align: 'left'}),
  txt(136, 523, '(b)', '24px "DejaVu Sans"', {align: 'left'}),
  txt(629, 522, '(c)', '24px "DejaVu Sans"', {align: 'left'}),
  seg(711, 522, 736, 522, 2),
  {type: 'circle', z: 21, silent: true, shape: {cx: 723.5, cy: 522, r: 4.5}, style: {fill: '#000'}},
  {type: 'text', x: 758, y: 522, z: 21, silent: true, style: {
    text: '{m|\u0394\u03b7}{s|2}{m| = \u03b7}{s|Dy,2}{m|(0) \u2212 \u03b7}{s|Dy,2}{m|(F}{s|1}{m|, \u0394t)}',
    rich: formulaRich, align: 'left', textAlign: 'left', verticalAlign: 'middle', textVerticalAlign: 'middle'}},
  txt(630, 643, 't - \u0394t =', '21px Lato', {align: 'left', fill: '#111'}),
  txt(630, 670, '100 - 120 ps', '21px Lato', {align: 'left', fill: '#1f4fd6'}),
  txt(630, 755, '60-80 ps', '21px Lato', {align: 'left', fill: '#d71f1f'}),
  txt(630, 836, '20-40 ps', '21px Lato', {align: 'left', fill: '#ffa30d'}),
  seg(606, 85, 618, 75),
  seg(606, 458, 618, 448),
  seg(125, 475, 1091, 475, 1.2),
  seg(606, 481, 617, 473)
];

const chart = echarts.init(document.getElementById('chart'), null, {renderer: 'canvas', width: 1205, height: 938});
chart.setOption({
  backgroundColor: '#ffffff',
  animation: false,
  textStyle: {fontFamily: SANS},
  grid: grids,
  xAxis: xAxes,
  yAxis: yAxes,
  legend: legends,
  series: series,
  graphic: {elements: graphics}
});
</script>
</body>
</html>
